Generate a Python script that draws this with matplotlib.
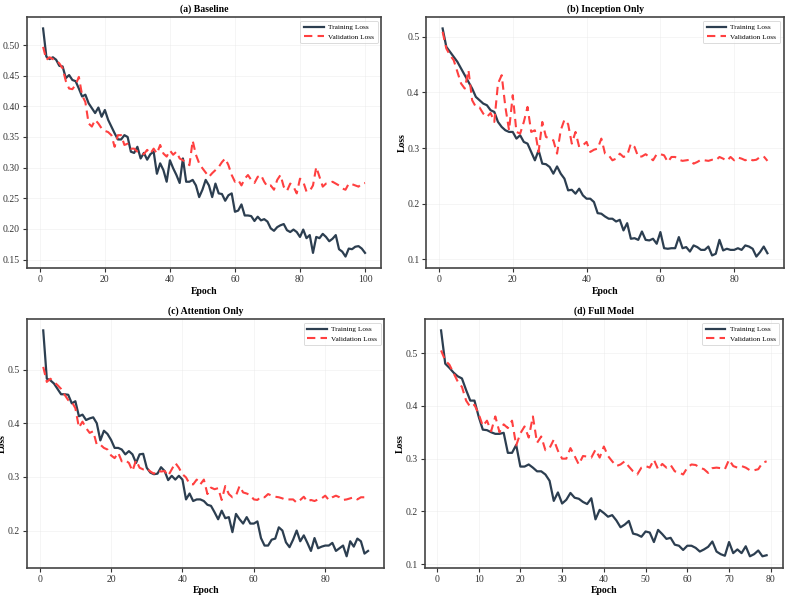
import matplotlib
matplotlib.use("Agg")
import matplotlib.pyplot as plt
from matplotlib.ticker import MultipleLocator
import numpy as np

plt.rcParams['font.family'] = 'serif'
plt.rcParams['font.serif'] = ['Liberation Serif', 'DejaVu Serif']

titles = ["(a) Baseline", "(b) Inception Only", "(c) Attention Only", "(d) Full Model"]

train_a = [0.527, 0.481, 0.477, 0.480, 0.476, 0.466, 0.465, 0.446, 0.451, 0.443,
           0.441, 0.429, 0.416, 0.419, 0.405, 0.397, 0.389, 0.398, 0.383, 0.394,
           0.378, 0.367, 0.356, 0.346, 0.346, 0.353, 0.350, 0.326, 0.324, 0.334,
           0.315, 0.324, 0.313, 0.322, 0.326, 0.290, 0.307, 0.296, 0.277, 0.312,
           0.299, 0.288, 0.275, 0.315, 0.277, 0.277, 0.280, 0.271, 0.252, 0.264,
           0.280, 0.271, 0.252, 0.274, 0.258, 0.257, 0.246, 0.255, 0.258, 0.228,
           0.230, 0.240, 0.222, 0.222, 0.221, 0.213, 0.220, 0.214, 0.216, 0.212,
           0.201, 0.197, 0.203, 0.206, 0.208, 0.198, 0.195, 0.199, 0.195, 0.187,
           0.199, 0.185, 0.190, 0.161, 0.187, 0.185, 0.192, 0.187, 0.180, 0.184,
           0.190, 0.167, 0.163, 0.155, 0.168, 0.167, 0.171, 0.172, 0.168, 0.161]
val_a = [0.497, 0.476, 0.480, 0.477, 0.475, 0.470, 0.462, 0.441, 0.429, 0.428,
         0.435, 0.448, 0.418, 0.407, 0.372, 0.367, 0.378, 0.372, 0.364, 0.360,
         0.358, 0.353, 0.334, 0.353, 0.353, 0.337, 0.339, 0.331, 0.331, 0.326,
         0.323, 0.322, 0.329, 0.323, 0.331, 0.323, 0.337, 0.323, 0.318, 0.328,
         0.321, 0.326, 0.315, 0.312, 0.309, 0.304, 0.344, 0.321, 0.307, 0.299,
         0.292, 0.285, 0.291, 0.296, 0.301, 0.309, 0.315, 0.304, 0.288, 0.277,
         0.280, 0.271, 0.282, 0.288, 0.280, 0.275, 0.285, 0.288, 0.277, 0.269,
         0.271, 0.264, 0.280, 0.288, 0.269, 0.262, 0.274, 0.269, 0.258, 0.282,
         0.277, 0.261, 0.262, 0.271, 0.301, 0.285, 0.269, 0.274, 0.275, 0.277,
         0.274, 0.271, 0.266, 0.264, 0.274, 0.273, 0.271, 0.269, 0.274, 0.275]

train_b = [0.515, 0.482, 0.473, 0.464, 0.455, 0.443, 0.431, 0.419, 0.407, 0.392,
           0.386, 0.380, 0.377, 0.368, 0.365, 0.347, 0.338, 0.332, 0.329, 0.329,
           0.317, 0.323, 0.311, 0.308, 0.293, 0.278, 0.296, 0.272, 0.271, 0.266,
           0.254, 0.267, 0.254, 0.245, 0.224, 0.225, 0.218, 0.227, 0.215, 0.209,
           0.209, 0.203, 0.183, 0.182, 0.177, 0.173, 0.173, 0.168, 0.171, 0.152,
           0.165, 0.137, 0.138, 0.135, 0.150, 0.135, 0.134, 0.137, 0.128, 0.149,
           0.120, 0.119, 0.120, 0.120, 0.140, 0.120, 0.122, 0.114, 0.125, 0.122,
           0.117, 0.117, 0.123, 0.107, 0.110, 0.135, 0.116, 0.119, 0.117, 0.117,
           0.120, 0.117, 0.125, 0.123, 0.119, 0.105, 0.113, 0.123, 0.111]
val_b = [0.509, 0.479, 0.467, 0.458, 0.437, 0.416, 0.407, 0.440, 0.386, 0.374,
         0.373, 0.362, 0.356, 0.363, 0.347, 0.416, 0.431, 0.374, 0.332, 0.395,
         0.329, 0.326, 0.347, 0.374, 0.329, 0.332, 0.293, 0.347, 0.320, 0.317,
         0.314, 0.290, 0.332, 0.351, 0.343, 0.308, 0.329, 0.302, 0.305, 0.311,
         0.293, 0.297, 0.299, 0.317, 0.290, 0.287, 0.278, 0.281, 0.290, 0.284,
         0.287, 0.308, 0.302, 0.284, 0.285, 0.289, 0.284, 0.278, 0.289, 0.289,
         0.287, 0.275, 0.284, 0.284, 0.279, 0.277, 0.278, 0.279, 0.272, 0.275,
         0.279, 0.278, 0.277, 0.279, 0.278, 0.284, 0.281, 0.277, 0.284, 0.278,
         0.283, 0.281, 0.278, 0.281, 0.278, 0.279, 0.284, 0.285, 0.277]

train_c = [0.573, 0.483, 0.480, 0.474, 0.464, 0.454, 0.454, 0.453, 0.437, 0.441,
           0.413, 0.416, 0.406, 0.409, 0.411, 0.400, 0.368, 0.386, 0.380, 0.369,
           0.354, 0.354, 0.351, 0.342, 0.348, 0.342, 0.326, 0.342, 0.343, 0.317,
           0.308, 0.305, 0.306, 0.318, 0.311, 0.294, 0.302, 0.295, 0.302, 0.295,
           0.258, 0.269, 0.255, 0.258, 0.258, 0.255, 0.248, 0.246, 0.234, 0.221,
           0.237, 0.223, 0.225, 0.197, 0.231, 0.221, 0.213, 0.225, 0.213, 0.213,
           0.217, 0.186, 0.172, 0.172, 0.183, 0.185, 0.206, 0.200, 0.178, 0.169,
           0.183, 0.200, 0.180, 0.191, 0.177, 0.162, 0.186, 0.167, 0.170, 0.172,
           0.172, 0.177, 0.162, 0.167, 0.172, 0.152, 0.180, 0.170, 0.185, 0.180,
           0.157, 0.162]
val_c = [0.505, 0.477, 0.483, 0.477, 0.471, 0.464, 0.453, 0.443, 0.440, 0.428,
         0.392, 0.403, 0.391, 0.382, 0.385, 0.360, 0.360, 0.354, 0.351, 0.340,
         0.335, 0.345, 0.329, 0.331, 0.326, 0.311, 0.331, 0.317, 0.314, 0.316,
         0.310, 0.306, 0.312, 0.310, 0.311, 0.302, 0.314, 0.326, 0.317, 0.305,
         0.299, 0.287, 0.286, 0.295, 0.286, 0.295, 0.268, 0.280, 0.277, 0.279,
         0.257, 0.283, 0.268, 0.262, 0.265, 0.283, 0.271, 0.269, 0.266, 0.258,
         0.257, 0.263, 0.262, 0.268, 0.265, 0.263, 0.262, 0.260, 0.257, 0.258,
         0.258, 0.252, 0.257, 0.263, 0.254, 0.257, 0.255, 0.258, 0.260, 0.265,
         0.257, 0.262, 0.265, 0.262, 0.257, 0.258, 0.260, 0.262, 0.258, 0.262,
         0.262, 0.260]

train_d = [0.543, 0.480, 0.472, 0.463, 0.456, 0.452, 0.430, 0.410, 0.410, 0.380,
           0.355, 0.354, 0.350, 0.347, 0.347, 0.349, 0.311, 0.311, 0.326, 0.285,
           0.285, 0.289, 0.283, 0.276, 0.276, 0.270, 0.258, 0.220, 0.236, 0.215,
           0.222, 0.235, 0.226, 0.224, 0.218, 0.214, 0.225, 0.185, 0.203, 0.197,
           0.190, 0.193, 0.183, 0.170, 0.175, 0.182, 0.158, 0.156, 0.152, 0.162,
           0.160, 0.142, 0.165, 0.157, 0.148, 0.150, 0.137, 0.135, 0.127, 0.135,
           0.135, 0.131, 0.124, 0.128, 0.133, 0.143, 0.124, 0.119, 0.116, 0.142,
           0.121, 0.128, 0.121, 0.134, 0.115, 0.119, 0.126, 0.115, 0.117]
val_d = [0.505, 0.486, 0.478, 0.462, 0.446, 0.436, 0.410, 0.398, 0.402, 0.385,
         0.362, 0.372, 0.352, 0.380, 0.350, 0.365, 0.358, 0.372, 0.325, 0.348,
         0.361, 0.340, 0.380, 0.330, 0.342, 0.316, 0.320, 0.336, 0.315, 0.300,
         0.300, 0.320, 0.305, 0.289, 0.305, 0.304, 0.302, 0.317, 0.302, 0.323,
         0.305, 0.295, 0.286, 0.289, 0.295, 0.285, 0.276, 0.270, 0.283, 0.286,
         0.283, 0.298, 0.280, 0.290, 0.283, 0.288, 0.276, 0.274, 0.270, 0.283,
         0.289, 0.288, 0.283, 0.280, 0.273, 0.282, 0.283, 0.282, 0.280, 0.298,
         0.286, 0.283, 0.286, 0.283, 0.278, 0.278, 0.280, 0.292, 0.295]

train_sets = [train_a, train_b, train_c, train_d]
val_sets = [val_a, val_b, val_c, val_d]
x_steps = [20, 20, 20, 10]
y_steps = [0.05, 0.1, 0.1, 0.1]

# axes boxes [left, bottom, width, height] in figure fractions
boxes = [[0.034, 0.560, 0.446, 0.412],
         [0.537, 0.560, 0.450, 0.412],
         [0.034, 0.068, 0.450, 0.408],
         [0.535, 0.068, 0.451, 0.408]]

fig = plt.figure(figsize=(7.94, 6.09), dpi=100)

for i in range(4):
    ax = fig.add_axes(boxes[i])
    tr = train_sets[i]
    va = val_sets[i]
    epochs_tr = np.arange(1, len(tr) + 1)
    epochs_va = np.arange(1, len(va) + 1)
    ax.plot(epochs_tr, tr, color='#2c3e50', linewidth=1.6, label='Training Loss')
    ax.plot(epochs_va, va, color='#ff4040', linewidth=1.5, linestyle='--',
            dashes=(4, 2.5), label='Validation Loss')
    ax.set_title(titles[i], fontsize=7, fontweight='bold', pad=4)
    ax.set_xlabel('Epoch', fontsize=7, fontweight='bold', labelpad=2)
    ax.set_ylabel('Loss', fontsize=7, fontweight='bold', labelpad=0.5)
    ax.xaxis.set_major_locator(MultipleLocator(x_steps[i]))
    ax.yaxis.set_major_locator(MultipleLocator(y_steps[i]))
    ax.tick_params(labelsize=7, length=3, width=0.8, colors='#333333', pad=2)
    ax.grid(True, color='#e8e8e8', linewidth=0.5, alpha=0.6)
    for s in ax.spines.values():
        s.set_linewidth(1.2)
        s.set_color('#444444')
    leg = ax.legend(loc='upper right', fontsize=5.2, frameon=True,
                    handlelength=2.7, borderpad=0.5, labelspacing=0.45,
                    handletextpad=0.6)
    leg.get_frame().set_edgecolor('#cccccc')
    leg.get_frame().set_linewidth(0.6)

fig.savefig('out.png', dpi=100)
